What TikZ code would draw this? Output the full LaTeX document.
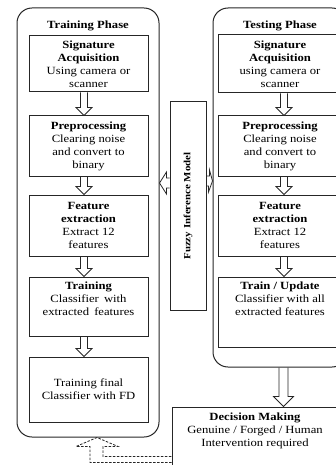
\documentclass[tikz,border=0pt]{standalone}
\usepackage{fontspec}
\setmainfont{Liberation Serif}[FakeStretch=1.15]
\usetikzlibrary{calc,positioning}

\begin{document}
\begin{tikzpicture}[x=1pt,y=-1pt,
  phase/.style={draw=black!85,line width=1pt,rounded corners=15pt,inner sep=0pt},
  stepbox/.style={draw=black!85,line width=1pt,align=center,inner sep=0pt,font=\fontsize{11}{13}\selectfont},
  inlabel/.style={anchor=north,align=center,yshift=-1.5pt,font=\fontsize{11}{13}\selectfont},
  title/.style={font=\fontsize{11}{13}\selectfont\bfseries},
  hollow/.style={draw=black!85,line width=0.8pt,line join=miter},
  dashline/.style={draw=black!85,line width=0.8pt,dashed,dash pattern=on 2.5pt off 1.5pt}]
  \useasboundingbox (0,0) rectangle (336,465);
  % phase frames
  \node[phase,minimum width=142pt,minimum height=429pt] (trph) at (88,222.5) {};
  \node[phase,minimum width=134pt,minimum height=359pt] (teph) at (280,187.5) {};
  \node[title] (trtitle) at (88,26) {Training Phase};
  \node[title] (tetitle) at (280,26) {Testing Phase};
  % training steps
  \node[stepbox,minimum width=119pt,minimum height=56pt] (tr1) at (88.5,64) {\textbf{Signature}\\\textbf{Acquisition}\\Using camera or\\scanner};
  \node[stepbox,minimum width=119pt,minimum height=60pt] (tr2) at (88.5,146) {\textbf{Preprocessing}\\Clearing noise\\and convert to\\binary};
  \node[stepbox,minimum width=119pt,minimum height=61pt] (tr3) at (88.5,225.5) {\textbf{Feature}\\\textbf{extraction}\\Extract 12\\features};
  \node[stepbox,minimum width=119pt,minimum height=59pt,
    label={[inlabel]north:{\textbf{Training}\\Classifier\hspace{2pt} with\\extracted\hspace{2pt} features}}] (tr4) at (88.5,306.5) {};
  \node[stepbox,minimum width=119pt,minimum height=65pt] (tr5) at (88.5,389.5) {Training final\\Classifier with FD};
  % testing steps
  \node[stepbox,minimum width=124pt,minimum height=58pt] (te1) at (280,64) {\textbf{Signature}\\\textbf{Acquisition}\\using camera or\\scanner};
  \node[stepbox,minimum width=124pt,minimum height=60pt] (te2) at (280,146) {\textbf{Preprocessing}\\Clearing noise\\and convert to\\binary};
  \node[stepbox,minimum width=124pt,minimum height=61pt] (te3) at (280,225.5) {\textbf{Feature}\\\textbf{extraction}\\Extract 12\\features};
  \node[stepbox,minimum width=124pt,minimum height=70pt,
    label={[inlabel]north:{\textbf{Train / Update}\\Classifier with all\\extracted features}}] (te4) at (280,312) {};
  % fuzzy model and decision
  \node[stepbox,minimum width=36pt,minimum height=208pt] (fz) at (188,206) {};
  \node[rotate=90,font=\fontsize{9.5}{11}\selectfont\bfseries] (fztext) at (fz.center) {Fuzzy Inference Model};
  \node[stepbox,minimum width=166pt,minimum height=68pt,
    label={[inlabel,yshift=-1pt]north:{\textbf{Decision Making}\\Genuine / Forged / Human\\Intervention required}}] (dm) at (255,441) {};
  % block arrows between steps
  \foreach \a/\b/\dx in {tr1/tr2/-4.5,tr2/tr3/-4.5,tr3/tr4/-4.5,tr4/tr5/-4.5,te1/te2/4,te2/te3/4,te3/te4/4}
    \draw[hollow] ($(\a.south)+(\dx-3.5,0)$) -- ($(\b.north)+(\dx-3.5,-8)$) -- ++(-4.5,0)
      -- ($(\b.north)+(\dx,0)$) -- ($(\b.north)+(\dx+8,-8)$) -- ++(-4.5,0) -- ($(\a.south)+(\dx+3.5,0)$);
  \draw[hollow] ($(teph.south)+(-1,0)$) -- ($(dm.north)+(24,-10)$) -- ++(-5.5,0)
    -- ($(dm.north)+(28.5,0)$) -- ($(dm.north)+(38.5,-10)$) -- ++(-5.5,0) -- ($(teph.south)+(8,0)$);
  % fuzzy model links
  \draw[hollow] ($(fz.west)+(0,-28)$) -- ($(trph.east|-fz.west)+(7,-28)$) -- ++(0,-6)
    -- ($(trph.east|-fz.west)+(0,-23)$) -- ++(7,11) -- ++(0,-6) -- ($(fz.west)+(0,-18)$);
  \draw[hollow] ($(fz.east)+(0,-30)$) -- ++(3,0) -- ++(0,-6)
    -- ($(teph.west|-fz.east)+(0,-25)$) -- ++(-4,11) -- ++(0,-6) -- ($(fz.east)+(0,-20)$);
  % feedback from decision to training
  \coordinate (fb) at ($(trph.south)+(9,0)$);
  \draw[dashline] ($(dm.north west)+(0,56)$) -| ($(fb)+(-7,9)$) -- ++(-14,0) -- (fb)
    -- ++(21,9) -- ++(-15,0) |- ($(dm.north west)+(0,50)$);
\end{tikzpicture}
\end{document}
